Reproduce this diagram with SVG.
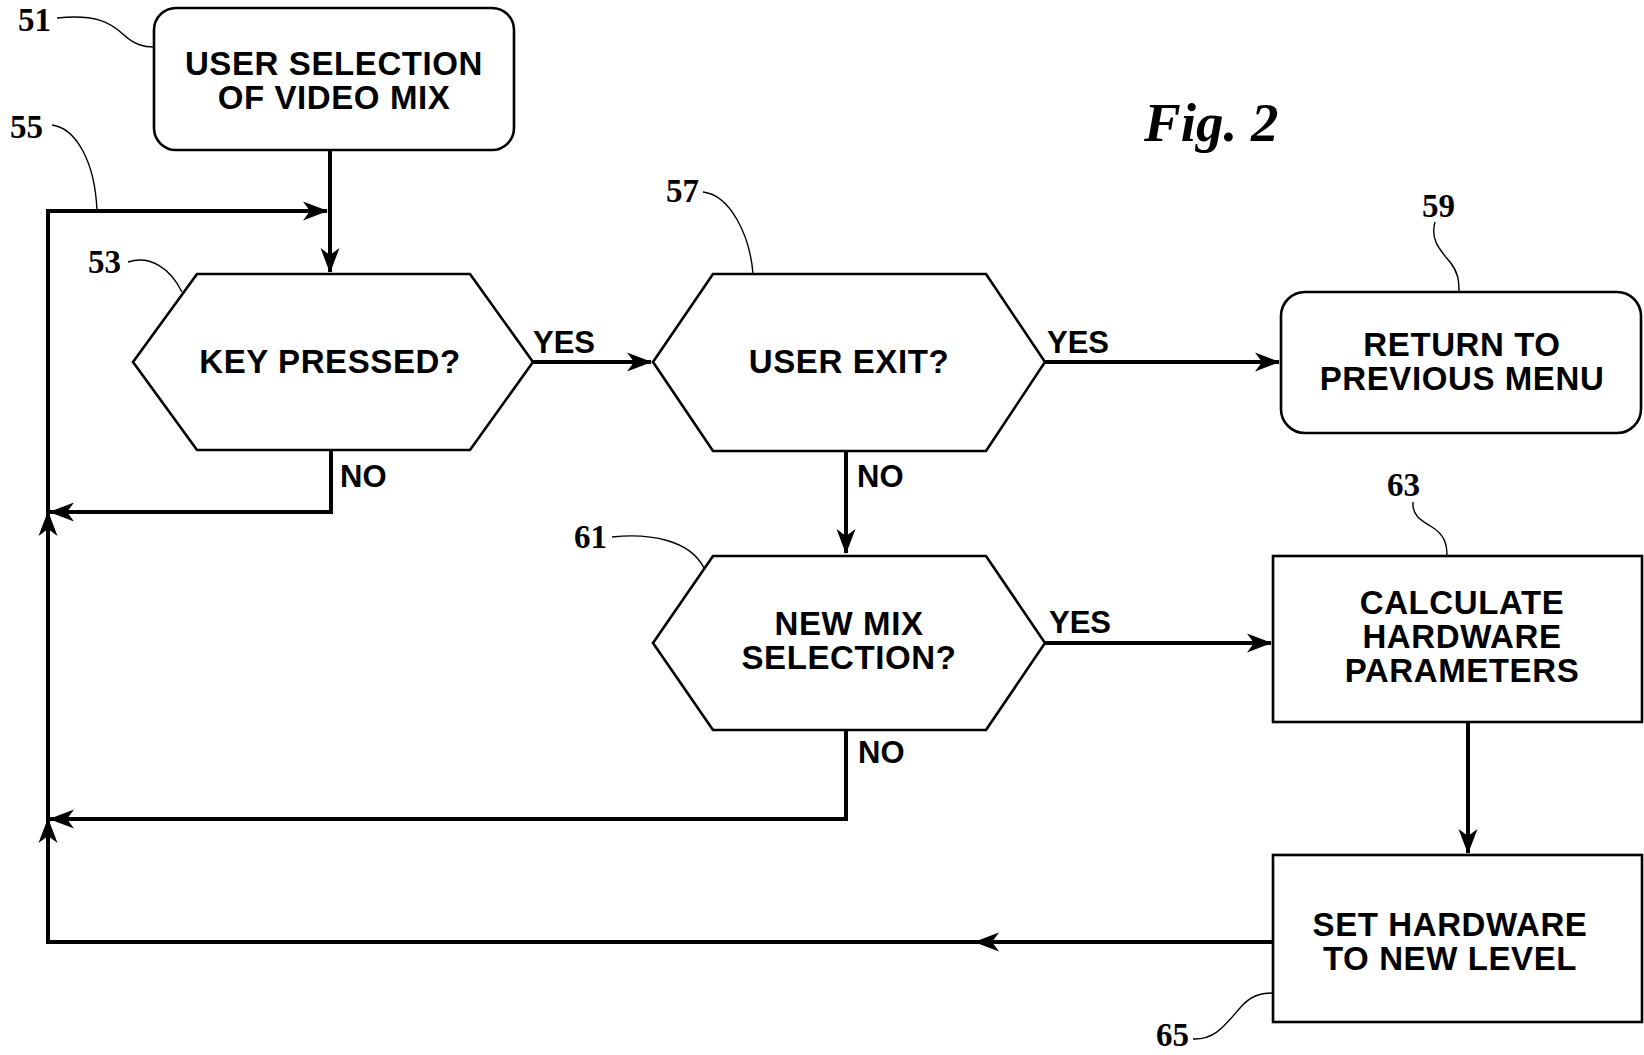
<svg xmlns="http://www.w3.org/2000/svg" width="1644" height="1055" viewBox="0 0 1644 1055">
<style>
.node{fill:#fff;stroke:#000;stroke-width:2.6}
.t{font-family:"Liberation Sans",Arial,sans-serif;font-weight:bold;font-size:33px;letter-spacing:0.6px;text-anchor:middle;fill:#000}
.lb{font-family:"Liberation Sans",Arial,sans-serif;font-weight:bold;font-size:31px;fill:#000}
.num{font-family:"Liberation Serif","Times New Roman",serif;font-weight:bold;font-size:33px;fill:#000}
.lead{fill:none;stroke:#000;stroke-width:1.4}
.c{fill:none;stroke:#000;stroke-width:4}
.fig{font-family:"Liberation Serif","Times New Roman",serif;font-weight:bold;font-style:italic;font-size:55px;fill:#000}
</style>
<defs>
<marker id="ah" markerUnits="userSpaceOnUse" orient="auto" refX="0" refY="0" markerWidth="30" markerHeight="30" overflow="visible">
<path d="M1,0 L-24,-9.5 L-17,0 L-24,9.5 Z" fill="#000"/>
</marker>
</defs>
<rect width="1644" height="1055" fill="#fff"/>
<text class="fig" x="1144" y="141">Fig. 2</text>
<g id="connectors">
<path class="c" d="M330,150 V272" marker-end="url(#ah)"/>
<path class="c" d="M48,211 H327" marker-end="url(#ah)"/>
<path class="c" d="M48,942 V819" marker-end="url(#ah)"/>
<path class="c" d="M48,819 V512" marker-end="url(#ah)"/>
<path class="c" d="M48,512 V209"/>
<path class="c" d="M331,450 V512 H50" marker-end="url(#ah)"/>
<path class="c" d="M532,362 H651" marker-end="url(#ah)"/>
<path class="c" d="M1045,362 H1279" marker-end="url(#ah)"/>
<path class="c" d="M846,451 V553" marker-end="url(#ah)"/>
<path class="c" d="M1045,643 H1271" marker-end="url(#ah)"/>
<path class="c" d="M846,730 V819 H50" marker-end="url(#ah)"/>
<path class="c" d="M1468,722 V853" marker-end="url(#ah)"/>
<path class="c" d="M1272,942 H975" marker-end="url(#ah)"/>
<path class="c" d="M975,942 H46"/>
<text class="lb" x="533" y="353">YES</text>
<text class="lb" x="340" y="487">NO</text>
<text class="lb" x="1047" y="353">YES</text>
<text class="lb" x="857" y="487">NO</text>
<text class="lb" x="1049" y="633">YES</text>
<text class="lb" x="858" y="763">NO</text>
</g>
<g id="n51">
<rect class="node" x="154" y="8" width="360" height="142" rx="22"/>
<text class="t" x="334" y="75">USER SELECTION</text>
<text class="t" x="334" y="109">OF VIDEO MIX</text>
<text class="num" x="18" y="31">51</text>
<path class="lead" d="M57,18 C95,14 110,22 124,35 C135,45 144,47 154,47"/>
</g>
<g id="n55">
<text class="num" x="10" y="138">55</text>
<path class="lead" d="M52,125 C75,128 95,160 97,211"/>
</g>
<g id="n53">
<polygon class="node" points="133,362 197,274 470,274 533,362 470,450 197,450"/>
<text class="t" x="330" y="373">KEY PRESSED?</text>
<text class="num" x="88" y="273">53</text>
<path class="lead" d="M128,262 C150,255 170,268 182,292"/>
</g>
<g id="n57">
<polygon class="node" points="653,362 713,274 986,274 1045,362 986,451 713,451"/>
<text class="t" x="849" y="373">USER EXIT?</text>
<text class="num" x="666" y="202">57</text>
<path class="lead" d="M703,192 C730,195 750,235 753,274"/>
</g>
<g id="n59">
<rect class="node" x="1281" y="292" width="360" height="141" rx="24"/>
<text class="t" x="1462" y="356">RETURN TO</text>
<text class="t" x="1462" y="390">PREVIOUS MENU</text>
<text class="num" x="1422" y="217">59</text>
<path class="lead" d="M1435,222 C1430,240 1440,250 1450,262 C1458,272 1459,280 1459,292"/>
</g>
<g id="n61">
<polygon class="node" points="653,643 713,556 986,556 1045,643 986,730 713,730"/>
<text class="t" x="849" y="635">NEW MIX</text>
<text class="t" x="849" y="669">SELECTION?</text>
<text class="num" x="574" y="548">61</text>
<path class="lead" d="M612,537 C650,533 690,540 704,568"/>
</g>
<g id="n63">
<rect class="node" x="1273" y="556" width="369" height="166"/>
<text class="t" x="1462" y="614">CALCULATE</text>
<text class="t" x="1462" y="648">HARDWARE</text>
<text class="t" x="1462" y="682">PARAMETERS</text>
<text class="num" x="1387" y="496">63</text>
<path class="lead" d="M1413,502 C1412,515 1420,520 1432,527 C1445,535 1447,545 1447,556"/>
</g>
<g id="n65">
<rect class="node" x="1273" y="855" width="369" height="167"/>
<text class="t" x="1450" y="936">SET HARDWARE</text>
<text class="t" x="1450" y="970">TO NEW LEVEL</text>
<text class="num" x="1156" y="1046">65</text>
<path class="lead" d="M1193,1039 C1215,1040 1225,1025 1240,1008 C1250,996 1260,993 1273,993"/>
</g>
</svg>
